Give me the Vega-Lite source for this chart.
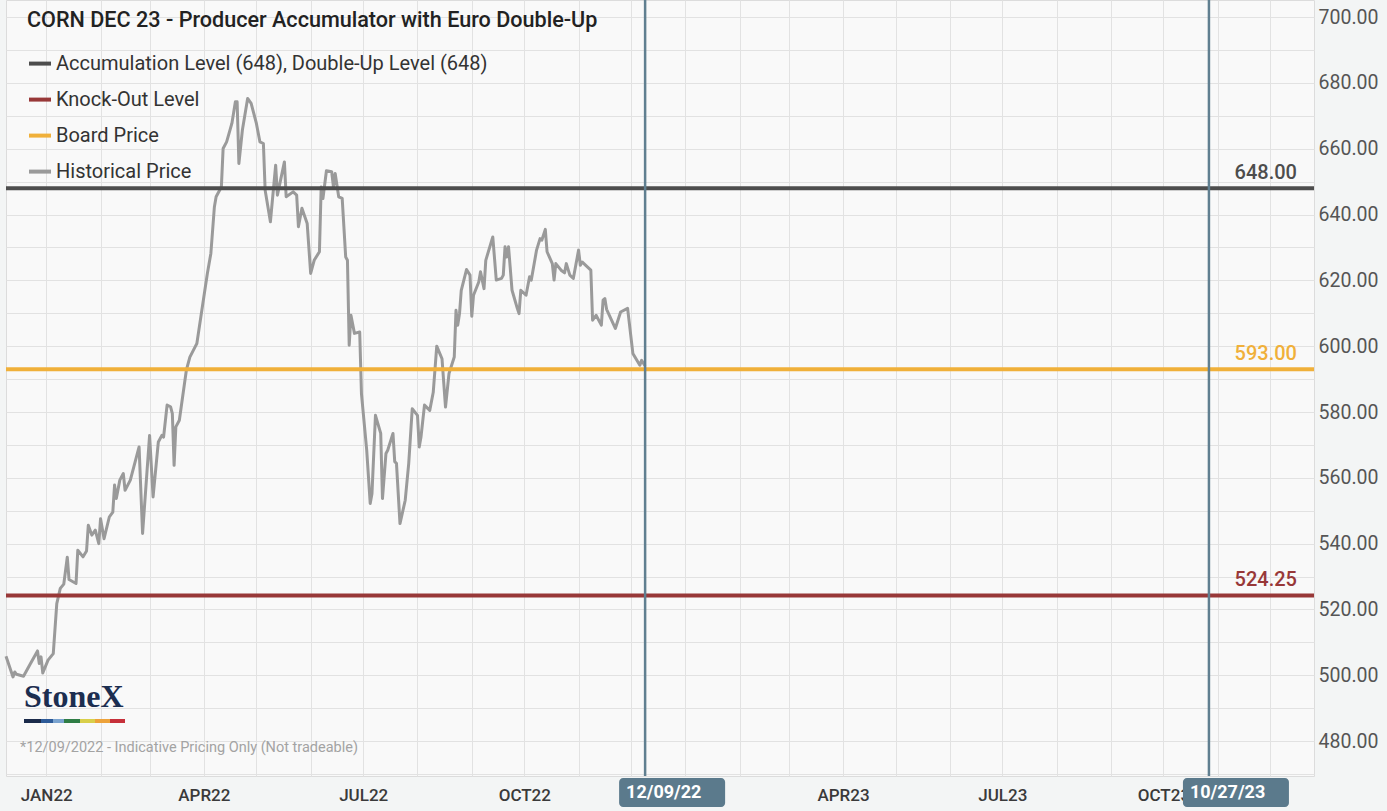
{
  "$schema": "https://vega.github.io/schema/vega-lite/v6.json",
  "autosize": "none",
  "width": 1308,
  "height": 776,
  "padding": {"left": 6, "top": 0, "right": 73, "bottom": 35},
  "background": "#f3f5f5",
  "resolve": {"axis": {"y": "independent"}},
  "config": {
    "view": {"fill": "#f9f9f9", "stroke": "#dcdcdc"},
    "font": "Roboto",
    "legend": {
      "orient": "top-left",
      "offset": 14,
      "padding": 7,
      "symbolType": "stroke",
      "symbolStrokeWidth": 4,
      "symbolSize": 484,
      "labelFont": "Roboto",
      "labelFontSize": 20,
      "labelColor": "#333333",
      "labelLimit": 800,
      "labelOffset": 3,
      "rowPadding": 13,
      "titleFont": "Roboto",
      "titleFontSize": 21.6,
      "titleFontWeight": 500,
      "titleColor": "#222222",
      "titleLimit": 900,
      "titlePadding": 8,
      "titleBaseline": "middle"
    }
  },
  "layer": [
    {
      "data": {"values": [
        {"date": "2021-12-09", "price": 505.8}, {"date": "2021-12-13", "price": 499.5}, {"date": "2021-12-14", "price": 501.0},
        {"date": "2021-12-15", "price": 500.3}, {"date": "2021-12-19", "price": 499.7}, {"date": "2021-12-23", "price": 503.6},
        {"date": "2021-12-27", "price": 507.4}, {"date": "2021-12-28", "price": 503.6}, {"date": "2021-12-29", "price": 505.6},
        {"date": "2021-12-30", "price": 500.7}, {"date": "2022-01-02", "price": 504.6}, {"date": "2022-01-05", "price": 506.6},
        {"date": "2022-01-07", "price": 521.8}, {"date": "2022-01-09", "price": 526.4}, {"date": "2022-01-11", "price": 527.7},
        {"date": "2022-01-13", "price": 535.9}, {"date": "2022-01-14", "price": 529.1}, {"date": "2022-01-18", "price": 527.9},
        {"date": "2022-01-19", "price": 538.0}, {"date": "2022-01-22", "price": 536.0}, {"date": "2022-01-24", "price": 537.8},
        {"date": "2022-01-25", "price": 545.6}, {"date": "2022-01-27", "price": 542.6}, {"date": "2022-01-29", "price": 544.1},
        {"date": "2022-01-31", "price": 540.0}, {"date": "2022-02-01", "price": 547.6}, {"date": "2022-02-03", "price": 541.5},
        {"date": "2022-02-06", "price": 548.1}, {"date": "2022-02-08", "price": 549.6}, {"date": "2022-02-09", "price": 557.8},
        {"date": "2022-02-10", "price": 553.7}, {"date": "2022-02-12", "price": 559.3}, {"date": "2022-02-14", "price": 561.3},
        {"date": "2022-02-15", "price": 556.2}, {"date": "2022-02-18", "price": 559.3}, {"date": "2022-02-23", "price": 569.4},
        {"date": "2022-02-25", "price": 543.1}, {"date": "2022-03-01", "price": 572.9}, {"date": "2022-03-03", "price": 554.2},
        {"date": "2022-03-06", "price": 570.9}, {"date": "2022-03-08", "price": 572.9}, {"date": "2022-03-09", "price": 572.4},
        {"date": "2022-03-11", "price": 582.1}, {"date": "2022-03-13", "price": 581.6}, {"date": "2022-03-14", "price": 579.5},
        {"date": "2022-03-15", "price": 563.8}, {"date": "2022-03-16", "price": 575.5}, {"date": "2022-03-18", "price": 577.5},
        {"date": "2022-03-22", "price": 592.7}, {"date": "2022-03-24", "price": 596.7}, {"date": "2022-03-27", "price": 599.8},
        {"date": "2022-03-28", "price": 600.8}, {"date": "2022-04-01", "price": 615.0}, {"date": "2022-04-03", "price": 622.1},
        {"date": "2022-04-05", "price": 628.2}, {"date": "2022-04-07", "price": 642.3}, {"date": "2022-04-08", "price": 645.4},
        {"date": "2022-04-11", "price": 648.4}, {"date": "2022-04-12", "price": 660.1}, {"date": "2022-04-14", "price": 662.1},
        {"date": "2022-04-17", "price": 667.7}, {"date": "2022-04-19", "price": 674.3}, {"date": "2022-04-20", "price": 674.3},
        {"date": "2022-04-21", "price": 655.5}, {"date": "2022-04-23", "price": 665.7}, {"date": "2022-04-26", "price": 675.3},
        {"date": "2022-04-28", "price": 673.8}, {"date": "2022-05-01", "price": 667.7}, {"date": "2022-05-03", "price": 662.1},
        {"date": "2022-05-05", "price": 661.6}, {"date": "2022-05-06", "price": 647.4}, {"date": "2022-05-09", "price": 637.8},
        {"date": "2022-05-12", "price": 655.0}, {"date": "2022-05-13", "price": 645.9}, {"date": "2022-05-14", "price": 648.4},
        {"date": "2022-05-17", "price": 656.0}, {"date": "2022-05-18", "price": 645.4}, {"date": "2022-05-22", "price": 646.9},
        {"date": "2022-05-24", "price": 645.9}, {"date": "2022-05-25", "price": 636.3}, {"date": "2022-05-27", "price": 641.9},
        {"date": "2022-05-30", "price": 637.3}, {"date": "2022-06-01", "price": 622.1}, {"date": "2022-06-03", "price": 626.1},
        {"date": "2022-06-06", "price": 628.7}, {"date": "2022-06-07", "price": 648.4}, {"date": "2022-06-08", "price": 644.9},
        {"date": "2022-06-10", "price": 653.3}, {"date": "2022-06-13", "price": 653.0}, {"date": "2022-06-14", "price": 648.4},
        {"date": "2022-06-15", "price": 652.5}, {"date": "2022-06-17", "price": 645.4}, {"date": "2022-06-19", "price": 644.9},
        {"date": "2022-06-21", "price": 627.1}, {"date": "2022-06-22", "price": 626.1}, {"date": "2022-06-23", "price": 600.3},
        {"date": "2022-06-24", "price": 609.4}, {"date": "2022-06-26", "price": 603.9}, {"date": "2022-06-29", "price": 604.3},
        {"date": "2022-06-30", "price": 585.6}, {"date": "2022-07-03", "price": 568.4}, {"date": "2022-07-05", "price": 552.2},
        {"date": "2022-07-06", "price": 555.2}, {"date": "2022-07-08", "price": 579.0}, {"date": "2022-07-11", "price": 573.5},
        {"date": "2022-07-12", "price": 553.7}, {"date": "2022-07-14", "price": 567.4}, {"date": "2022-07-15", "price": 568.4},
        {"date": "2022-07-18", "price": 573.5}, {"date": "2022-07-19", "price": 564.9}, {"date": "2022-07-20", "price": 564.4},
        {"date": "2022-07-22", "price": 546.1}, {"date": "2022-07-25", "price": 553.2}, {"date": "2022-07-27", "price": 564.4},
        {"date": "2022-07-29", "price": 581.0}, {"date": "2022-08-01", "price": 579.0}, {"date": "2022-08-02", "price": 569.4},
        {"date": "2022-08-03", "price": 572.4}, {"date": "2022-08-05", "price": 582.1}, {"date": "2022-08-08", "price": 580.5},
        {"date": "2022-08-10", "price": 586.0}, {"date": "2022-08-12", "price": 600.0}, {"date": "2022-08-15", "price": 596.2},
        {"date": "2022-08-17", "price": 581.5}, {"date": "2022-08-19", "price": 591.7}, {"date": "2022-08-22", "price": 596.7},
        {"date": "2022-08-23", "price": 610.9}, {"date": "2022-08-24", "price": 606.4}, {"date": "2022-08-25", "price": 609.9},
        {"date": "2022-08-26", "price": 617.0}, {"date": "2022-08-29", "price": 623.3}, {"date": "2022-08-31", "price": 621.6},
        {"date": "2022-09-01", "price": 609.1}, {"date": "2022-09-02", "price": 615.5}, {"date": "2022-09-05", "price": 619.5},
        {"date": "2022-09-06", "price": 622.6}, {"date": "2022-09-08", "price": 617.5}, {"date": "2022-09-09", "price": 626.1},
        {"date": "2022-09-13", "price": 633.2}, {"date": "2022-09-15", "price": 620.1}, {"date": "2022-09-18", "price": 620.6},
        {"date": "2022-09-19", "price": 621.6}, {"date": "2022-09-20", "price": 630.2}, {"date": "2022-09-21", "price": 627.1},
        {"date": "2022-09-22", "price": 630.2}, {"date": "2022-09-24", "price": 617.0}, {"date": "2022-09-27", "price": 611.5},
        {"date": "2022-09-28", "price": 609.9}, {"date": "2022-09-29", "price": 617.0}, {"date": "2022-10-02", "price": 615.5},
        {"date": "2022-10-04", "price": 621.1}, {"date": "2022-10-05", "price": 620.1}, {"date": "2022-10-08", "price": 629.2},
        {"date": "2022-10-10", "price": 632.7}, {"date": "2022-10-11", "price": 632.2}, {"date": "2022-10-13", "price": 635.5},
        {"date": "2022-10-14", "price": 628.7}, {"date": "2022-10-17", "price": 625.1}, {"date": "2022-10-18", "price": 620.1},
        {"date": "2022-10-19", "price": 625.1}, {"date": "2022-10-22", "price": 623.1}, {"date": "2022-10-24", "price": 622.3},
        {"date": "2022-10-25", "price": 625.1}, {"date": "2022-10-27", "price": 621.6}, {"date": "2022-10-29", "price": 620.6},
        {"date": "2022-11-01", "price": 629.2}, {"date": "2022-11-02", "price": 624.6}, {"date": "2022-11-03", "price": 625.6},
        {"date": "2022-11-06", "price": 624.1}, {"date": "2022-11-08", "price": 623.1}, {"date": "2022-11-09", "price": 607.9},
        {"date": "2022-11-11", "price": 609.4}, {"date": "2022-11-14", "price": 606.4}, {"date": "2022-11-15", "price": 614.0},
        {"date": "2022-11-16", "price": 614.5}, {"date": "2022-11-17", "price": 611.2}, {"date": "2022-11-22", "price": 605.4},
        {"date": "2022-11-25", "price": 610.4}, {"date": "2022-11-29", "price": 611.5}, {"date": "2022-12-02", "price": 597.8},
        {"date": "2022-12-06", "price": 594.2}, {"date": "2022-12-07", "price": 595.7}, {"date": "2022-12-09", "price": 594.0}
      ]},
      "mark": {"type": "line", "strokeWidth": 3, "strokeJoin": "round"},
      "encoding": {
        "x": {
          "field": "date", "type": "temporal",
          "scale": {"type": "utc", "domain": [{"year": 2021, "month": 12, "date": 9, "utc": true}, {"year": 2023, "month": 12, "date": 26, "utc": true}]},
          "axis": {
            "title": null,
            "tickCount": {"interval": "month", "step": 1},
            "labelExpr": "(utcmonth(datum.value) % 3 == 0 && !(utcyear(datum.value) == 2023 && utcmonth(datum.value) == 0)) ? upper(utcFormat(datum.value, '%b%y')) : ''",
            "grid": true, "gridColor": "#e2e2e2", "gridWidth": 1,
            "ticks": false, "domain": false,
            "labelFont": "Roboto", "labelFontSize": 17, "labelFontWeight": 500, "labelColor": "#3a3a3a",
            "labelPadding": 11, "labelOverlap": false, "labelFlush": false, "labelBound": false
          }
        },
        "y": {
          "field": "price", "type": "quantitative",
          "scale": {"domain": [469.4, 705.2], "nice": false, "zero": false},
          "axis": {
            "title": null, "orient": "right",
            "values": [470, 480, 490, 500, 510, 520, 530, 540, 550, 560, 570, 580, 590, 600, 610, 620, 630, 640, 650, 660, 670, 680, 690, 700],
            "labelExpr": "(datum.value % 20 == 0) ? format(datum.value, '.2f') : ''",
            "grid": true, "gridColor": "#e2e2e2", "gridWidth": 1,
            "ticks": false, "domain": false,
            "labelFont": "Roboto", "labelFontSize": 19.5, "labelColor": "#555555",
            "labelPadding": 4, "labelOverlap": false, "labelFlush": false
          }
        },
        "color": {
          "datum": "Historical Price",
          "title": "CORN DEC 23 - Producer Accumulator with Euro Double-Up",
          "scale": {
            "domain": ["Accumulation Level (648), Double-Up Level (648)", "Knock-Out Level", "Board Price", "Historical Price"],
            "range": ["#4d4d4d", "#983838", "#f0b03a", "#9a9a9a"]
          }
        }
      }
    },
    {
      "data": {"values": [
        {"series": "Accumulation Level (648), Double-Up Level (648)", "level": 648, "label": "648.00"},
        {"series": "Knock-Out Level", "level": 524.25, "label": "524.25"},
        {"series": "Board Price", "level": 593, "label": "593.00"}
      ]},
      "layer": [
        {
          "mark": {"type": "rule", "strokeWidth": 4},
          "encoding": {
            "y": {"field": "level", "type": "quantitative", "axis": null},
            "color": {"field": "series", "type": "nominal", "title": "CORN DEC 23 - Producer Accumulator with Euro Double-Up"}
          }
        },
        {
          "mark": {"type": "text", "align": "right", "baseline": "alphabetic", "xOffset": -17, "yOffset": -9, "fontSize": 20, "fontWeight": 500, "font": "Roboto"},
          "encoding": {
            "x": {"datum": {"year": 2023, "month": 12, "date": 26, "utc": true}, "type": "temporal", "axis": {"title": null}},
            "y": {"field": "level", "type": "quantitative", "axis": null},
            "text": {"field": "label"},
            "color": {"field": "series", "type": "nominal", "title": "CORN DEC 23 - Producer Accumulator with Euro Double-Up"}
          }
        }
      ]
    },
    {
      "data": {"values": [
        {"date": "2022-12-09", "label": "12/09/22"},
        {"date": "2023-10-27", "label": "10/27/23"}
      ]},
      "layer": [
        {
          "mark": {"type": "rule", "color": "#607f90", "strokeWidth": 2.5},
          "encoding": {"x": {"field": "date", "type": "temporal", "axis": {"title": null}}}
        },
        {
          "mark": {"type": "rect", "color": "#5b7a8c", "cornerRadius": 4, "xOffset": -26, "x2Offset": 80, "yOffset": 2, "y2Offset": 31},
          "encoding": {
            "x": {"field": "date", "type": "temporal", "axis": {"title": null}},
            "x2": {"field": "date"},
            "y": {"datum": 469.4, "type": "quantitative", "axis": null},
            "y2": {"datum": 469.4}
          }
        },
        {
          "mark": {"type": "text", "align": "left", "baseline": "middle", "xOffset": -19, "yOffset": 17, "color": "#ffffff", "fontSize": 18, "fontWeight": "bold", "font": "Roboto"},
          "encoding": {
            "x": {"field": "date", "type": "temporal", "axis": {"title": null}},
            "y": {"datum": 469.4, "type": "quantitative", "axis": null},
            "text": {"field": "label"}
          }
        }
      ]
    },
    {
      "data": {"values": [{"brand": "StoneX", "note": "*12/09/2022 - Indicative Pricing Only (Not tradeable)"}]},
      "layer": [
        {
          "mark": {"type": "text", "align": "left", "baseline": "alphabetic", "xOffset": 18, "yOffset": -69, "color": "#1c2e50", "fontSize": 32, "fontWeight": "bold", "font": "Liberation Serif"},
          "encoding": {
            "x": {"datum": {"year": 2021, "month": 12, "date": 9, "utc": true}, "type": "temporal", "axis": {"title": null}},
            "y": {"datum": 469.4, "type": "quantitative", "axis": null},
            "text": {"field": "brand"}
          }
        },
        {
          "mark": {
            "type": "rect", "xOffset": 18, "x2Offset": 119, "yOffset": -57, "y2Offset": -53,
            "color": {"gradient": "linear", "x1": 0, "x2": 1, "y1": 0, "y2": 0, "stops": [
              {"offset": 0, "color": "#1b2b4b"}, {"offset": 0.17, "color": "#1b2b4b"},
              {"offset": 0.17, "color": "#2d5a98"}, {"offset": 0.29, "color": "#2d5a98"},
              {"offset": 0.29, "color": "#7aa3cf"}, {"offset": 0.4, "color": "#7aa3cf"},
              {"offset": 0.4, "color": "#2f7d45"}, {"offset": 0.55, "color": "#2f7d45"},
              {"offset": 0.55, "color": "#d9cf4a"}, {"offset": 0.7, "color": "#d9cf4a"},
              {"offset": 0.7, "color": "#eda23a"}, {"offset": 0.85, "color": "#eda23a"},
              {"offset": 0.85, "color": "#c6303a"}, {"offset": 1, "color": "#c6303a"}
            ]}
          },
          "encoding": {
            "x": {"datum": {"year": 2021, "month": 12, "date": 9, "utc": true}, "type": "temporal", "axis": {"title": null}},
            "x2": {"datum": {"year": 2021, "month": 12, "date": 9, "utc": true}},
            "y": {"datum": 469.4, "type": "quantitative", "axis": null},
            "y2": {"datum": 469.4}
          }
        },
        {
          "mark": {"type": "text", "align": "left", "baseline": "middle", "xOffset": 14, "yOffset": -28, "color": "#a3a3a3", "fontSize": 14.5, "font": "Roboto"},
          "encoding": {
            "x": {"datum": {"year": 2021, "month": 12, "date": 9, "utc": true}, "type": "temporal", "axis": {"title": null}},
            "y": {"datum": 469.4, "type": "quantitative", "axis": null},
            "text": {"field": "note"}
          }
        }
      ]
    }
  ]
}
